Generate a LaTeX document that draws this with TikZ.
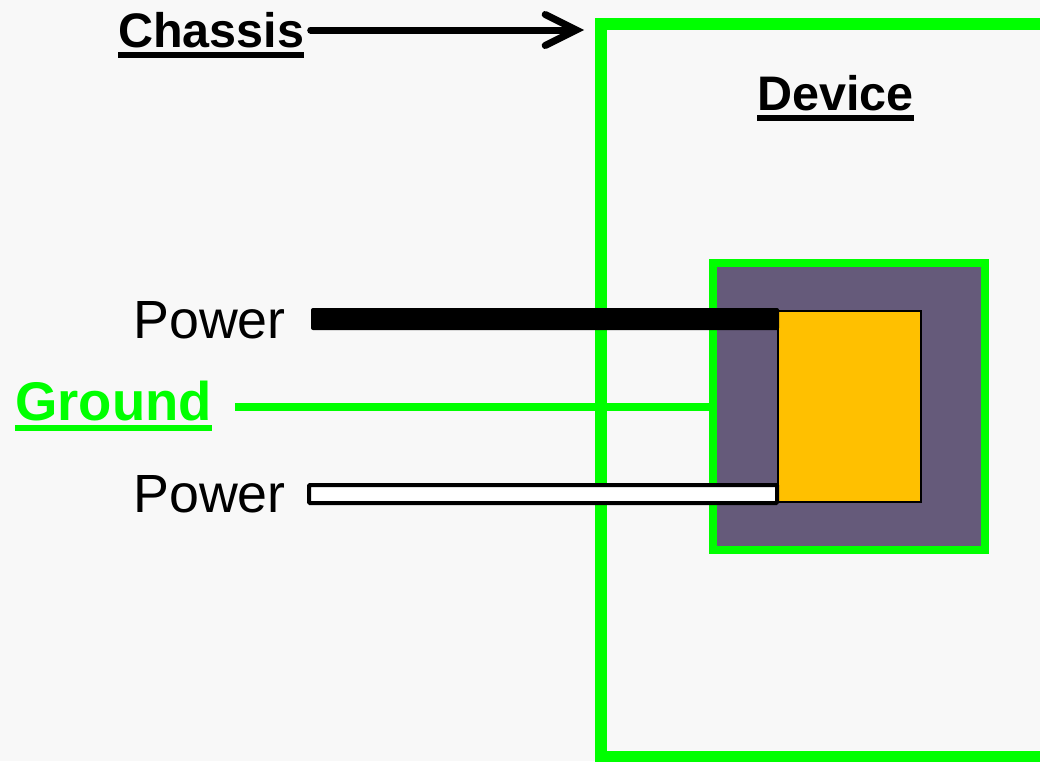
\documentclass[tikz,border=0pt]{standalone}
\usepackage{fontspec}
\setmainfont{Liberation Sans}
\usepackage{xcolor}
\usetikzlibrary{arrows.meta,positioning,calc}

\definecolor{bggray}{HTML}{F8F8F8}
\definecolor{chasgreen}{HTML}{00FF00}
\definecolor{diepurple}{HTML}{655A7A}
\definecolor{chiporange}{HTML}{FFC000}

% thick underline below a word
\newcommand{\ulword}[1]{\setbox0\hbox{#1}\rlap{\rule[-6.2pt]{\wd0}{3.6pt}}\box0}

\begin{document}
\begin{tikzpicture}[
  x=0.02cm, y=-0.02cm,
  tag/.style={inner sep=0pt, anchor=base west, font=\fontsize{27.6pt}{32pt}\selectfont\bfseries},
  pinlabel/.style={inner sep=0pt, anchor=base west, font=\fontsize{30.6pt}{36pt}\selectfont},
  chassisline/.style={draw=chasgreen, line width=0.24cm, line join=miter},
  diebox/.style={draw=chasgreen, line width=0.16cm, fill=diepurple, minimum width=5.44cm, minimum height=5.74cm, inner sep=0pt},
  chipbox/.style={draw=black, line width=0.04cm, fill=chiporange, minimum width=2.86cm, minimum height=3.82cm, inner sep=0pt},
  hotbar/.style={fill=black, rounded corners=0.04cm},
  coldbar/.style={draw=black, fill=white, line width=0.08cm, rounded corners=0.02cm},
  gndwire/.style={draw=chasgreen, line width=0.16cm},
  pointer/.style={-{Straight Barb[length=0.62cm, width=0.62cm, line cap=round]}, line width=0.14cm, line cap=round}
]
\useasboundingbox (0,0) rectangle (1040,761);
\fill[bggray] (0,0) rectangle (1040,761);

% chassis outline, open to the right
\draw[chassisline] (1040,24) -- (601,24) -- (601,757) -- (1040,757);
\coordinate (corner) at (584,30);

% device and chip
\node[diebox] (die) at (849,406.5) {};
\node[chipbox] (chip) at (849.5,406.5) {};

% labels
\node[tag] (chas) at (118,47) {\ulword{Chassis}};
\node[tag] (dev) at (757,110) {\ulword{Device}};
\node[tag, text=chasgreen, font=\fontsize{31pt}{36pt}\selectfont\bfseries] (gnd) at (15,420) {\ulword{Ground}};
\node[pinlabel] (pwrA) at (133,338) {Power};
\node[pinlabel] (pwrB) at (133,512) {Power};

% wires into the device
\coordinate (hotA) at (311,308);
\coordinate (hotB) at (779,330);
\coordinate (coldA) at (309,485);
\coordinate (coldB) at (777,503);
\coordinate (gndA) at (235,407);

\draw[gndwire] (gndA) -- (gndA -| die.west);
\fill[hotbar] (hotA) rectangle (hotB);
\draw[coldbar] (coldA) rectangle (coldB);

\draw[pointer] (chas.east |- corner) ++(0.12cm,0) -- (corner);
\end{tikzpicture}
\end{document}
